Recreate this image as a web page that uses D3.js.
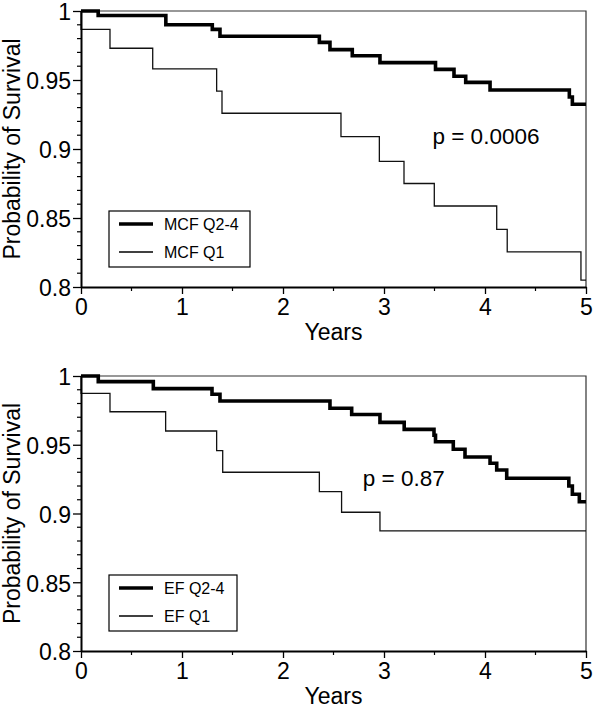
<!DOCTYPE html>
<html><head><meta charset="utf-8">
<script src="https://cdn.jsdelivr.net/npm/d3@7"></script>
<style>body{margin:0;background:#fff}svg{display:block;font-family:"Liberation Sans",Arial,sans-serif}</style>
</head><body><svg id="c" width="600" height="717"></svg>
<script>
// Top panel: MCF
const mcfHighT = [0, 0.17, 0.84, 1.30, 1.376, 2.36, 2.465, 2.686, 2.96, 3.51, 3.693, 3.809, 4.05, 4.835, 4.865];
const mcfHighS = [1, 0.9967, 0.990, 0.9867, 0.9817, 0.9773, 0.972, 0.9676, 0.9626, 0.9577, 0.9527, 0.9483, 0.9428, 0.9377, 0.9324];
const mcfLowT = [0, 0.001, 0.287, 0.71, 1.343, 1.396, 2.574, 2.954, 3.198, 3.498, 4.116, 4.22, 4.95];
const mcfLowS = [1, 0.9867, 0.973, 0.958, 0.942, 0.9259, 0.909, 0.891, 0.875, 0.8587, 0.8418, 0.8254, 0.805];
// Bottom panel: EF
const efHighT = [0, 0.171, 0.716, 1.297, 1.376, 2.465, 2.68, 2.96, 3.2, 3.495, 3.51, 3.686, 3.802, 4.05, 4.116, 4.215, 4.83, 4.865, 4.934];
const efHighS = [1, 0.9959, 0.9908, 0.9867, 0.9818, 0.9765, 0.972, 0.9663, 0.9612, 0.9569, 0.9522, 0.9467, 0.9411, 0.9365, 0.9316, 0.9256, 0.920, 0.914, 0.9086];
const efLowT = [0, 0.001, 0.287, 0.838, 1.343, 1.403, 2.36, 2.58, 2.96];
const efLowS = [1, 0.9874, 0.974, 0.960, 0.9457, 0.930, 0.9159, 0.9009, 0.8873];

const xTicks = [0, 1, 2, 3, 4, 5];
const yTicks = [0.8, 0.85, 0.9, 0.95, 1];
const yTickLabels = ["0.8", "0.85", "0.9", "0.95", "1"];

const panels = [
  {top: 11, bottom: 287, hi: [mcfHighT, mcfHighS], lo: [mcfLowT, mcfLowS], labels: ["MCF Q2-4", "MCF Q1"], p: "p = 0.0006", px: 3.48, py: 0.9036, legW: 141},
  {top: 376, bottom: 651, hi: [efHighT, efHighS], lo: [efLowT, efLowS], labels: ["EF Q2-4", "EF Q1"], p: "p = 0.87", px: 2.79, py: 0.92, legW: 128}
];

const svg = d3.select("#c");
const left = 81, right = 586;

panels.forEach(P => {
  const x = d3.scaleLinear().domain([0, 5]).range([left, right]);
  const y = d3.scaleLinear().domain([0.8, 1]).range([P.bottom, P.top]);
  const g = svg.append("g");

  // frame top/right
  g.append("path").attr("d", `M${left},${P.top}H${right}V${P.bottom}`)
    .attr("fill", "none").attr("stroke", "#333").attr("stroke-width", 1.2);

  const step = (T, S) => {
    const pts = T.map((t, i) => [t, S[i]]);
    pts.push([5, S[S.length - 1]]);
    return d3.line().x(d => x(d[0])).y(d => y(d[1])).curve(d3.curveStepAfter)(pts);
  };
  g.append("path").attr("d", step(P.lo[0], P.lo[1])).attr("fill", "none").attr("stroke", "#111").attr("stroke-width", 1.3);
  g.append("path").attr("d", step(P.hi[0], P.hi[1])).attr("fill", "none").attr("stroke", "#000").attr("stroke-width", 3.6);

  // minor ticks
  const yMinor = d3.range(81, 100).map(v => v / 100).filter(v => Math.abs(v * 20 - Math.round(v * 20)) > 1e-6);
  g.selectAll(".ym").data(yMinor).join("line")
    .attr("x1", left - 4).attr("x2", left).attr("y1", d => y(d)).attr("y2", d => y(d))
    .attr("stroke", "#000").attr("stroke-width", 1.2);
  const xMinor = [0.5, 1.5, 2.5, 3.5, 4.5];
  g.selectAll(".xm").data(xMinor).join("line")
    .attr("x1", d => x(d)).attr("x2", d => x(d)).attr("y1", P.bottom).attr("y2", P.bottom + 4)
    .attr("stroke", "#000").attr("stroke-width", 1.2);

  // axes
  const ya = d3.axisLeft(y).tickValues(yTicks).tickFormat((d, i) => yTickLabels[i]).tickSizeInner(8).tickSizeOuter(0).tickPadding(2);
  const yg = g.append("g").attr("transform", `translate(${left},0)`).call(ya);
  const xa = d3.axisBottom(x).tickValues(xTicks).tickFormat(d3.format("d")).tickSizeInner(7).tickSizeOuter(0).tickPadding(5);
  const xg = g.append("g").attr("transform", `translate(0,${P.bottom})`).call(xa);
  [yg, xg].forEach(a => {
    a.select(".domain").attr("stroke", "#000").attr("stroke-width", 2);
    a.selectAll(".tick line").attr("stroke", "#000").attr("stroke-width", 1.3);
    a.selectAll("text").attr("font-size", 23).attr("fill", "#000").attr("font-family", "Liberation Sans, Arial, sans-serif");
  });
  yg.selectAll(".tick text").attr("dy", "0.38em");

  // axis titles
  g.append("text").attr("x", (left + right) / 2).attr("y", P.bottom + 53).attr("text-anchor", "middle")
    .attr("font-size", 23).text("Years");
  g.append("text").attr("transform", `translate(20,${(P.top + P.bottom) / 2}) rotate(-90)`).attr("text-anchor", "middle")
    .attr("font-size", 23).text("Probability of Survival");

  // p-value
  g.append("text").attr("x", x(P.px)).attr("y", y(P.py)).attr("font-size", 22.5).text(P.p);

  // legend
  const lx = 109, ly = y(0.8) - 76;
  g.append("rect").attr("x", lx).attr("y", ly).attr("width", P.legW).attr("height", 56)
    .attr("fill", "#fff").attr("stroke", "#000").attr("stroke-width", 1.2);
  [[3.6, P.labels[0], 13], [1.3, P.labels[1], 41]].forEach(([w, t, dy]) => {
    g.append("line").attr("x1", lx + 10).attr("x2", lx + 44).attr("y1", ly + dy).attr("y2", ly + dy)
      .attr("stroke", "#000").attr("stroke-width", w);
    g.append("text").attr("x", lx + 55).attr("y", ly + dy + 5.5).attr("font-size", 16).text(t);
  });
});
</script></body></html>
